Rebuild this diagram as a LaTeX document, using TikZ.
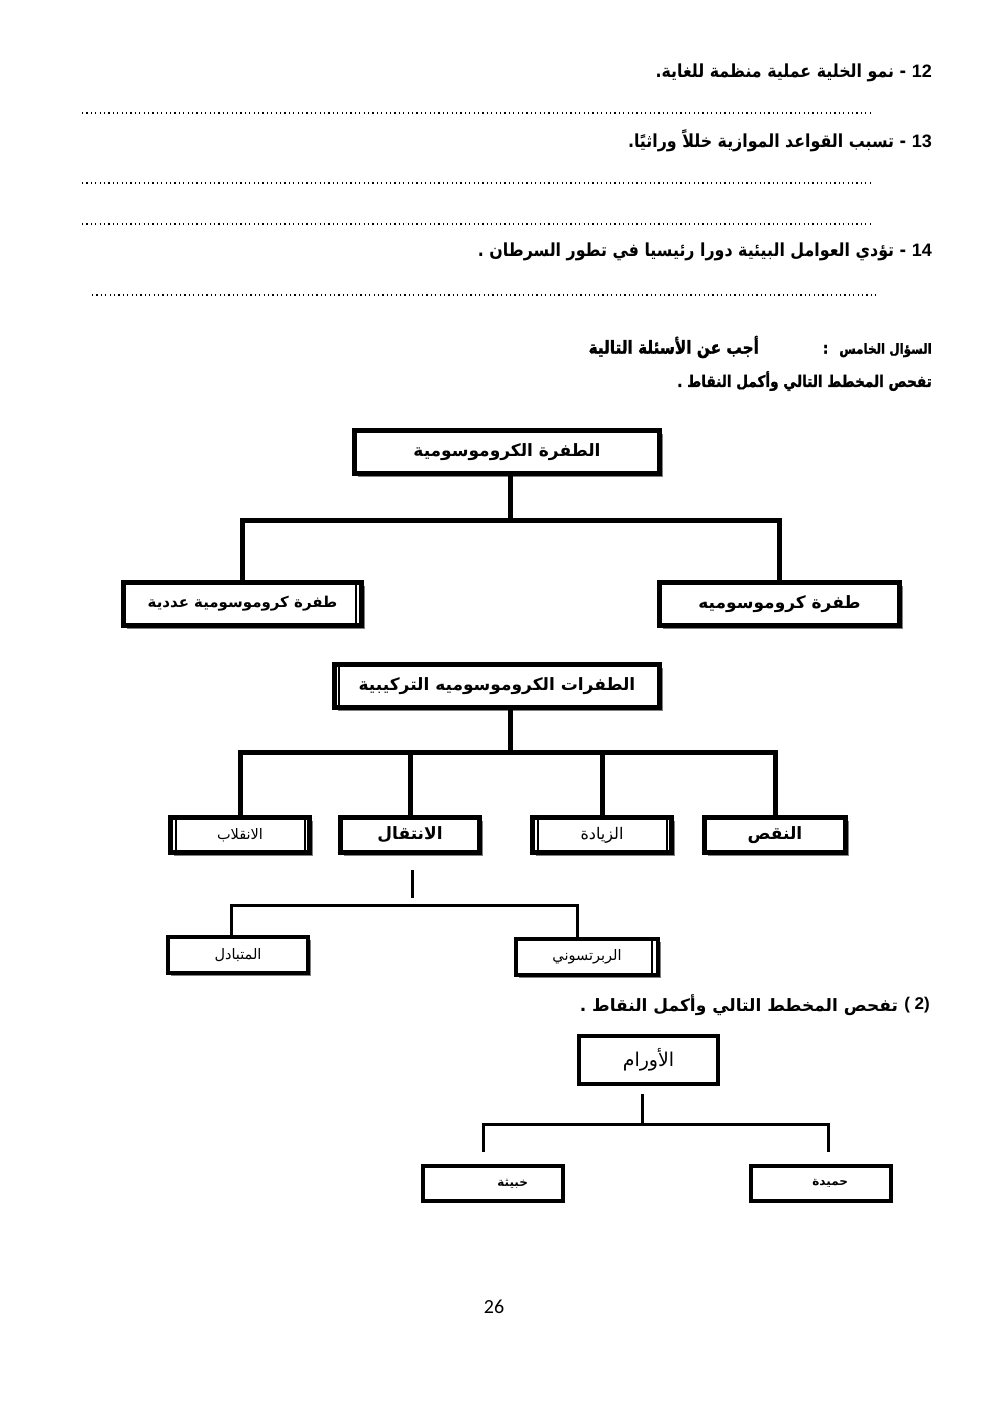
\documentclass[tikz,border=0pt]{standalone}
\usepackage{fontspec}
\setmainfont{Liberation Sans}
\newfontfamily\arabicfont[Script=Arabic]{DejaVu Sans}
\newfontfamily\arabicnarrow[Script=Arabic,FakeStretch=0.88]{DejaVu Sans}
\newfontfamily\arabicheavy[Script=Arabic,FakeStretch=0.85,FakeBold=1.5]{DejaVu Sans Bold}
\newfontfamily\pagefont{Carlito}
\TeXXeTstate=1
\usetikzlibrary{shadows}
\newcommand{\artxt}[1]{\beginR #1\endR}
\newcommand{\qnum}[1]{\hbox{\rmfamily\bfseries #1}}

\begin{document}
\begin{tikzpicture}[x=1pt,y=-1pt,
  qline/.style={anchor=east,inner sep=0pt,font=\arabicnarrow\bfseries\fontsize{18}{21}\selectfont},
  headline/.style={qline,font=\arabicheavy\fontsize{16}{19}\selectfont},
  dotline/.style={line width=1.2pt,dash pattern=on 1.2pt off 3.2pt},
  box/.style={draw,line width=5pt,fill=white,inner sep=0pt,minimum height=43pt,
    font=\arabicfont\bfseries\fontsize{17}{20}\selectfont},
  shbox/.style={box,drop shadow={shadow xshift=3pt,shadow yshift=-3pt,fill=black!50,opacity=1}},
  lowbox/.style={shbox,minimum width=139pt,minimum height=35pt},
  plain/.style={font=\arabicfont\fontsize{14.5}{17}\selectfont},
  tumbox/.style={box,line width=4pt,minimum width=140pt,minimum height=35pt,
    font=\arabicfont\bfseries\fontsize{12}{15}\selectfont},
  inner/.style={line width=1.5pt},
  link/.style={line width=5pt},
  thinlink/.style={line width=3pt}
]
\fill[white] (0,0) rectangle (992,1403);

% questions
\node[qline] (q12) at (932,73) {\artxt{\qnum{12} - نمو الخلية عملية منظمة للغاية.}};
\draw[dotline] (82,113) -- (872,113);
\node[qline] (q13) at (932,141) {\artxt{\qnum{13} - تسبب القواعد الموازية خللاً وراثيًا.}};
\draw[dotline] (82,183) -- (872,183);
\draw[dotline] (82,224) -- (872,224);
\node[qline] (q14) at (932,252) {\artxt{\qnum{14} -  تؤدي العوامل البيئية دورا رئيسيا في تطور السرطان  .}};
\draw[dotline] (92,295) -- (877,295);

\node[headline] (q5) at (932,347)
  {\artxt{{\fontsize{14}{17}\selectfont السؤال الخامس}\hspace{11pt}:\hspace{64pt}{\fontsize{18}{21}\selectfont أجب عن الأسئلة التالية}}};
\node[headline] (task1) at (932,381) {\artxt{تفحص المخطط التالي وأكمل النقاط .}};

% chromosomal mutation tree
\node[shbox,minimum width=305pt] (chrom) at (507,452) {\artxt{الطفرة الكروموسومية}};
\node[shbox,minimum width=238pt,font=\arabicfont\bfseries\fontsize{15}{18}\selectfont] (numer) at (242.5,604) {\artxt{طفرة كروموسومية عددية}};
\node[shbox,minimum width=240pt] (chromo) at (779.5,604) {\artxt{طفرة كروموسوميه}};
\draw[inner] ([xshift=-8pt]numer.north east) -- ([xshift=-8pt]numer.south east);

\coordinate (bar1) at (510,520);
\draw[link] (bar1 |- chrom.south) -- (bar1);
\draw[link] (numer.north) |- (bar1) -| (chromo.north);

\node[shbox,minimum width=325pt] (struct) at (497,686) {\artxt{الطفرات الكروموسوميه التركيبية}};
\draw[inner] ([xshift=7pt]struct.north west) -- ([xshift=7pt]struct.south west);

\node[lowbox,plain] (inv) at (240,835) {\artxt{الانقلاب}};
\node[lowbox] (trans) at (410,835) {\artxt{الانتقال}};
\node[lowbox,plain,font=\arabicfont\fontsize{16}{19}\selectfont] (dup) at (602,835) {\artxt{الزيادة}};
\node[lowbox,minimum width=141pt] (del) at (775,835) {\artxt{النقص}};
\foreach \n in {inv,dup}{
  \draw[inner] ([xshift=8pt]\n.north west) -- ([xshift=8pt]\n.south west);
  \draw[inner] ([xshift=-7pt]\n.north east) -- ([xshift=-7pt]\n.south east);
}

\coordinate (bar2) at (510,752);
\draw[link] (bar2 |- struct.south) -- (bar2);
\draw[link] (inv.north) |- (bar2) -| (del.north);
\draw[link] (trans.north) -- (trans.north |- bar2);
\draw[link] (dup.north) -- (dup.north |- bar2);

% translocation
\node[lowbox,plain,line width=4pt,minimum width=140pt,minimum height=36pt] (recip) at (238,955) {\artxt{المتبادل}};
\node[lowbox,plain,line width=4pt,minimum width=142pt,minimum height=36pt] (robert) at (587,957) {\artxt{الربرتسوني}};
\draw[inner] ([xshift=-8pt]robert.north east) -- ([xshift=-8pt]robert.south east);

\coordinate (t1) at (412,870);
\coordinate (bar3) at (412,905);
\draw[thinlink] (t1) -- ++(0,28);
\draw[thinlink] ([xshift=-7pt]recip.north) |- (bar3) -| ([xshift=-10pt]robert.north);

% tumours
\node[anchor=east,inner sep=0pt,font=\bfseries\fontsize{17}{20}\selectfont] (num2) at (930,1005) {( 2)};
\node[qline,font=\arabicfont\bfseries\fontsize{17}{20}\selectfont,anchor=east] (task2) at ([xshift=-6pt]num2.west)
  {\artxt{تفحص المخطط التالي وأكمل النقاط .}};
\node[box,line width=4pt,minimum width=139pt,minimum height=48pt,
  font=\arabicfont\fontsize{19}{22}\selectfont] (tumor) at (648.5,1060) {\artxt{الأورام}};
\node[tumbox,text width=70pt,align=right] (malig) at (493,1183.5) {\artxt{خبيثة}};
\node[tumbox,text width=54pt,align=right] (benign) at (821,1183.5) {\artxt{حميدة}};

\coordinate (t3) at (642,1094);
\coordinate (bar4) at (642,1124);
\draw[thinlink] (t3) -- (bar4);
\draw[thinlink] ([xshift=-10pt,yshift=12pt]malig.north) |- (bar4) -| ([xshift=7pt,yshift=12pt]benign.north);

\node[font=\pagefont\fontsize{20}{24}\selectfont] (page) at (494,1307) {26};
\end{tikzpicture}
\end{document}
